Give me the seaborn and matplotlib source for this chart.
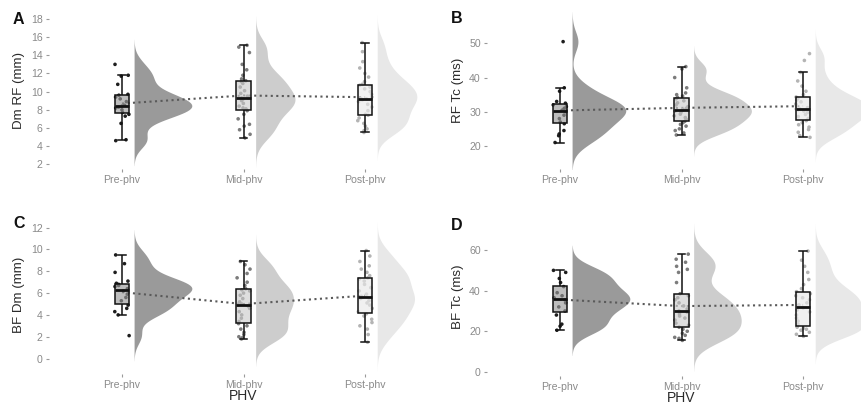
import matplotlib
matplotlib.use("Agg")
import matplotlib.pyplot as plt
import numpy as np
import pandas as pd
import seaborn as sns

# categories on the x axis
groups = ["Pre-phv", "Mid-phv", "Post-phv"]

# A: Dm RF (mm)
dm_rf_pre = [4.6, 4.7, 6.5, 7.3, 7.5, 7.7, 8.0, 8.2, 8.3, 8.4, 8.5, 8.9, 9.2, 9.4, 9.6, 9.7, 10.8, 11.7, 11.8, 13.0]
dm_rf_mid = [4.9, 5.3, 5.8, 6.2, 6.4, 7.0, 7.5, 7.9, 8.1, 8.2, 8.4, 8.7, 9.0, 9.2, 9.3, 9.3, 9.5, 9.8, 10.1, 10.5,
             10.9, 11.1, 11.2, 11.4, 11.8, 12.4, 13.0, 14.3, 14.9, 15.1]
dm_rf_post = [5.5, 5.7, 5.9, 6.2, 6.5, 6.8, 7.1, 7.4, 7.5, 7.9, 8.3, 8.6, 8.9, 9.1, 9.2, 9.2, 9.4, 9.7, 10.0, 10.3,
              10.5, 10.7, 10.8, 11.1, 11.6, 12.0, 12.6, 13.3, 14.4, 15.4]

# B: RF Tc (ms)
rf_tc_pre = [21.0, 23.0, 23.5, 24.5, 26.5, 27.0, 28.0, 29.0, 30.0, 30.5, 31.0, 31.5, 32.0, 32.5, 33.0, 36.0, 37.0, 50.5]
rf_tc_mid = [23.2, 23.8, 24.5, 25.0, 25.8, 26.3, 26.8, 27.2, 27.8, 28.3, 28.8, 29.3, 29.8, 30.2, 30.4, 30.6, 31.0,
             31.5, 32.0, 32.6, 33.2, 33.8, 34.2, 34.6, 35.0, 35.5, 37.0, 40.0, 42.5, 43.2]
rf_tc_post = [22.5, 23.0, 24.0, 24.8, 25.5, 26.2, 26.8, 27.4, 28.0, 28.6, 29.2, 29.8, 30.2, 30.6, 30.8, 30.8, 31.2,
              31.8, 32.3, 32.9, 33.4, 33.9, 34.3, 35.0, 36.0, 37.5, 39.0, 41.5, 45.0, 47.0]

# C: BF Dm (mm)
bf_dm_pre = [2.1, 4.0, 4.3, 4.6, 4.9, 5.3, 5.6, 5.9, 6.2, 6.4, 6.6, 6.7, 6.8, 6.9, 7.1, 7.9, 8.7, 9.5]
bf_dm_mid = [1.8, 1.9, 2.0, 2.2, 2.4, 2.7, 3.0, 3.2, 3.4, 3.7, 4.0, 4.3, 4.6, 4.8, 4.9, 5.0, 5.2, 5.5, 5.8, 6.0,
             6.2, 6.3, 6.4, 6.7, 7.0, 7.4, 7.8, 8.2, 8.6, 8.9]
bf_dm_post = [1.5, 2.2, 2.7, 3.0, 3.3, 3.6, 3.9, 4.1, 4.3, 4.6, 4.9, 5.1, 5.3, 5.5, 5.6, 5.7, 5.9, 6.2, 6.5, 6.8,
              7.1, 7.3, 7.4, 7.6, 7.9, 8.2, 8.5, 8.9, 9.4, 9.9]

# D: BF Tc (ms)
bf_tc_pre = [20.5, 22.5, 23.5, 28.0, 30.0, 32.0, 34.0, 35.5, 36.5, 37.5, 39.0, 42.0, 44.0, 46.0, 49.0, 50.0]
bf_tc_mid = [15.5, 16.5, 17.0, 18.0, 19.0, 20.0, 21.0, 22.0, 23.0, 24.0, 25.5, 26.5, 27.5, 28.5, 29.5, 30.0, 31.0,
             32.5, 34.0, 35.5, 36.5, 37.5, 38.5, 44.0, 49.0, 50.5, 52.0, 54.0, 55.5, 58.0]
bf_tc_post = [17.5, 18.5, 19.5, 20.5, 21.0, 21.5, 22.0, 22.5, 23.5, 25.0, 26.5, 28.0, 29.5, 30.5, 31.5, 32.0, 33.0,
              34.0, 35.5, 36.5, 37.5, 38.5, 39.5, 41.0, 43.0, 45.5, 49.0, 52.0, 55.0, 59.5]

fills = ["#9a9a9a", "#cdcdcd", "#e8e8e8"]
dots = ["#1e1e1e", "#7c7c7c", "#b4b4b4"]

W, H = 861, 405
# letter, y label, series, ylim, tick step, axes box in pixels (left, top, right, bottom), x label
panels = [
    ("A", "Dm RF (mm)", [dm_rf_pre, dm_rf_mid, dm_rf_post], (1.5, 18.7), 2, (49, 12.6, 438, 168.8), False),
    ("B", "RF Tc (ms)", [rf_tc_pre, rf_tc_mid, rf_tc_post], (13.2, 59.4), 10, (487, 11.2, 876, 169.2), False),
    ("C", "BF Dm (mm)", [bf_dm_pre, bf_dm_mid, bf_dm_post], (-1.4, 13.06), 2, (49, 216.1, 438, 373.8), True),
    ("D", "BF Tc (ms)", [bf_tc_pre, bf_tc_mid, bf_tc_post], (-1.8, 75.8), 20, (487, 218.0, 876, 375.5), True),
]

plt.rcParams["font.family"] = ["Liberation Sans", "DejaVu Sans"]
np.random.seed(7)

fig = plt.figure(figsize=(W / 100, H / 100), dpi=100)


def make_half(ax, start, nudge=0.1):
    # keep the right half of each violin and push it off the box
    for coll in ax.collections[start:]:
        verts = []
        for path in coll.get_paths():
            v = np.array(path.vertices, dtype=float)
            mid = (v[:, 0].min() + v[:, 0].max()) / 2
            v[:, 0] = np.maximum(v[:, 0], mid) + nudge
            verts.append(v)
        coll.set_verts(verts)
        coll.set_zorder(1)


for letter, ylabel, series, ylim, step, box, show_x in panels:
    left, top, right, bottom = box
    ax = fig.add_axes([left / W, 1 - bottom / H, (right - left) / W, (bottom - top) / H])

    df = pd.DataFrame({
        "PHV": np.concatenate([[g] * len(s) for g, s in zip(groups, series)]),
        "value": np.concatenate(series),
    })

    n0 = len(ax.collections)
    sns.violinplot(data=df, x="PHV", y="value", hue="PHV", order=groups, hue_order=groups,
                   palette=fills, inner=None, cut=3, bw_adjust=0.78, density_norm="area",
                   common_norm=True, width=0.95, linewidth=0, legend=False, ax=ax)
    make_half(ax, n0)

    nl = len(ax.lines)
    sns.pointplot(data=df, x="PHV", y="value", order=groups, estimator="mean", errorbar=None,
                  color="#5a5a5a", marker="", markersize=0, linestyle=":", linewidth=1.5, ax=ax)
    for ln in ax.lines[nl:]:
        ln.set_zorder(2)

    n1 = len(ax.collections)
    sns.stripplot(data=df, x="PHV", y="value", hue="PHV", order=groups, hue_order=groups,
                  palette=dots, jitter=0.06, size=2.6, linewidth=0, legend=False, ax=ax)
    for coll in ax.collections[n1:]:
        coll.set_zorder(3)

    npch, nl = len(ax.patches), len(ax.lines)
    sns.boxplot(data=df, x="PHV", y="value", hue="PHV", order=groups, hue_order=groups,
                palette=fills, width=0.12, showfliers=False, linecolor="#111111", linewidth=1.1,
                medianprops=dict(linewidth=2.0), legend=False, ax=ax)
    for p in ax.patches[npch:]:
        fc = p.get_facecolor()
        p.set_facecolor((fc[0], fc[1], fc[2], 0.65))
        p.set_zorder(4)
    for ln in ax.lines[nl:]:
        ln.set_zorder(5)

    ax.set_xlim(-0.6, 2.6)
    ax.set_ylim(*ylim)
    ax.set_yticks(np.arange(np.ceil(ylim[0] / step) * step, ylim[1], step))
    for s in ax.spines.values():
        s.set_visible(False)
    ax.tick_params(length=2.5, width=0.8, color="#9a9a9a", labelcolor="#8a8a8a", labelsize=7.6, pad=2)

    ax.set_ylabel(ylabel, fontsize=9.6, color="#2a2a2a")
    ax.yaxis.set_label_coords(-23.5 / (right - left), 0.5)
    if show_x:
        ax.set_xlabel("PHV", fontsize=10, color="#2a2a2a", labelpad=-0.5)
    else:
        ax.set_xlabel("")

    fig.text((left - 36) / W, 1 - (top + 7) / H, letter, fontsize=11.5, fontweight="bold",
             color="#111111", ha="left", va="center")

fig.savefig("out.png", dpi=100)
